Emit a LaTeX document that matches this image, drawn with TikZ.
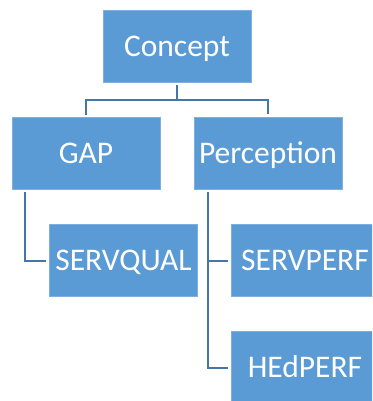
\documentclass[tikz,border=0pt]{standalone}
\usepackage{fontspec}
\setmainfont{Carlito}
\begin{document}
\begin{tikzpicture}[x=1pt,y=1pt,
  box/.style={rectangle, fill=boxfill, draw=boxedge, line width=0.8pt, minimum width=148pt, minimum height=72pt, inner sep=0pt, text height=20.3pt, text depth=0pt, text=white, font=\fontsize{31.5}{36}\selectfont},
  conn/.style={draw=connc, line width=2pt, shorten <=3pt, shorten >=3pt}]
\definecolor{boxfill}{HTML}{5B9BD5}
\definecolor{boxedge}{HTML}{7DB0E0}
\definecolor{connc}{HTML}{4576AA}
\useasboundingbox (0,0) rectangle (372,-401);
\clip (0,0) rectangle (372,-401);
\node[box] (concept) at (177,-46) {Concept};
\node[box] (gap) at (86,-153) {GAP};
\node[box] (perc) at (268,-153) {Perception};
\node[box] (sq) at (123.5,-260.5) {SERVQUAL};
\node[box] (sp) at (305,-260.5) {SERVPERF};
\node[box] (hp) at (305,-367.5) {HEdPERF};
\coordinate (mid) at (177,-100);
\coordinate (g1) at ([xshift=13pt]gap.south west);
\coordinate (p1) at ([xshift=14pt]perc.south west);
\draw[conn, shorten >=0pt] (concept.south) -- (mid);
\draw[conn, shorten <=0pt, line cap=rect] (mid) -| (gap.north);
\draw[conn, shorten <=0pt] (mid) -| (perc.north);
\draw[conn] (g1) |- (sq.west);
\draw[conn] (p1) |- (sp.west);
\draw[conn] (p1) |- (hp.west);
\end{tikzpicture}
\end{document}
